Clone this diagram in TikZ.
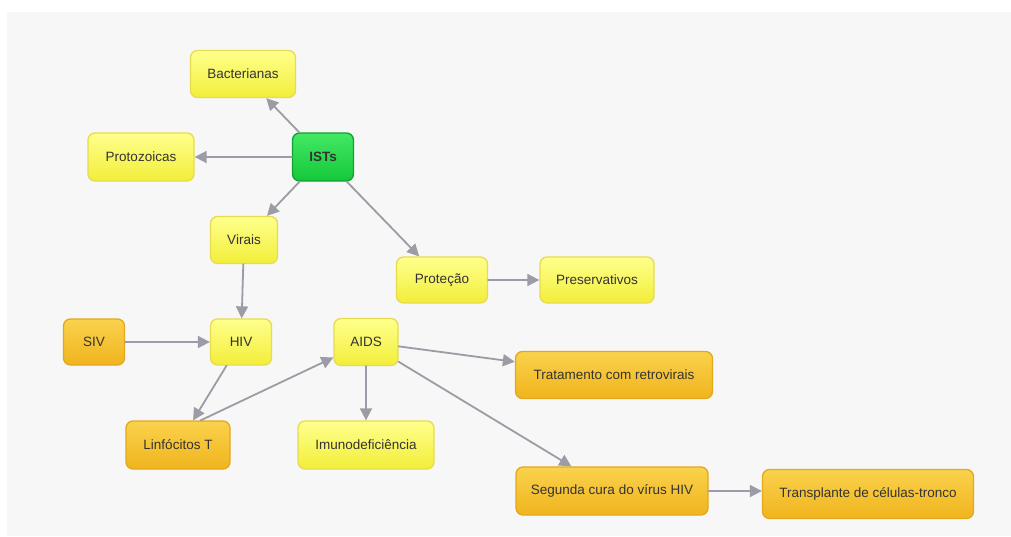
\documentclass[tikz,border=0pt]{standalone}
\usepackage{fontspec}
\setmainfont{Liberation Sans}
\usetikzlibrary{arrows.meta}
\definecolor{fundo}{HTML}{F7F7F7}
\definecolor{cinza}{HTML}{9C9CA6}
\definecolor{amaTopo}{HTML}{FFFF8C}
\definecolor{amaBase}{HTML}{F2EE3A}
\definecolor{amaBorda}{HTML}{E6DC50}
\definecolor{larTopo}{HTML}{FAD24C}
\definecolor{larBase}{HTML}{F0B41E}
\definecolor{larBorda}{HTML}{E4A81E}
\definecolor{verTopo}{HTML}{44E864}
\definecolor{verBase}{HTML}{14C83A}
\definecolor{verBorda}{HTML}{12A030}
\begin{document}
\begin{tikzpicture}[x=1pt, y=-1pt, font=\fontsize{13.5}{16}\selectfont,
            line join=round, line cap=round,
            caixa/.style={draw, rounded corners=7pt, line width=1.3pt,
                inner sep=0pt, text=black!80},
            amarela/.style={caixa, draw=amaBorda, top color=amaTopo, bottom color=amaBase},
            laranja/.style={caixa, draw=larBorda, top color=larTopo, bottom color=larBase},
            verde/.style={caixa, draw=verBorda, top color=verTopo, bottom color=verBase},
            seta/.style={draw=cinza, line width=1.8pt, -{Triangle[length=12pt,width=12pt]}}]
            \useasboundingbox (0,0) rectangle (1011,536);
            \fill[white] (0,0) rectangle (1011,536);
            \fill[fundo] (7,12) rectangle (1011,536);
            % conceitos
            \node[amarela, minimum width=105pt, minimum height=47pt] (bact) at (243,74) {Bacterianas};
            \node[verde, minimum width=61pt, minimum height=48pt] (ist) at (323,157) {\textbf{ISTs}};
            \node[amarela, minimum width=106pt, minimum height=48pt] (proto) at (141,157) {Protozoicas};
            \node[amarela, minimum width=67pt, minimum height=47pt] (virais) at (244,240) {Virais};
            \node[amarela, minimum width=91pt, minimum height=46pt] (prot) at (442,280) {Proteção};
            \node[amarela, minimum width=114pt, minimum height=46pt] (pres) at (597,280) {Preservativos};
            \node[laranja, minimum width=61pt, minimum height=46pt] (siv) at (94,342) {SIV};
            \node[amarela, minimum width=61pt, minimum height=46pt] (hiv) at (241,342) {HIV};
            \node[amarela, minimum width=64pt, minimum height=47pt] (aids) at (366,342) {AIDS};
            \node[laranja, minimum width=197pt, minimum height=47pt] (trat) at (614,375) {Tratamento com retrovirais};
            \node[laranja, minimum width=104pt, minimum height=48pt] (linf) at (178,445) {Linfócitos T};
            \node[amarela, minimum width=136pt, minimum height=48pt] (imuno) at (366,445) {Imunodeficiência};
            \node[laranja, minimum width=192pt, minimum height=48pt] (cura) at (612,491) {Segunda cura do vírus HIV};
            \node[laranja, minimum width=211pt, minimum height=49pt] (transp) at (868,494) {Transplante de células-tronco};
            % ligacoes
            \draw[seta] (ist) -- (bact);
            \draw[seta] (ist) -- (proto);
            \draw[seta] (ist) -- (virais);
            \draw[seta] (ist) -- (prot);
            \draw[seta] (prot) -- (pres);
            \draw[seta] (virais) -- (hiv);
            \draw[seta] (siv) -- (hiv);
            \draw[seta] (hiv) -- (linf);
            \draw[seta] (linf.north east) ++(-30,0) coordinate (lsai) (lsai) -- (aids);
            \draw[seta] (aids) -- (trat);
            \draw[seta] (aids) -- (imuno);
            \draw[seta] (aids) -- (cura);
            \draw[seta] (cura.east) -- (cura.east -| transp.west);
        \end{tikzpicture}
\end{document}
